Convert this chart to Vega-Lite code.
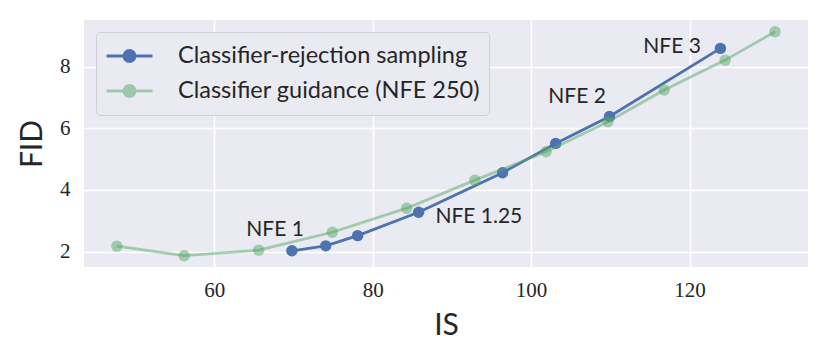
{
  "$schema": "https://vega.github.io/schema/vega-lite/v6.json",
  "width": 724,
  "height": 247,
  "autosize": {"type": "none"},
  "padding": {"left": 84, "top": 20, "right": 22, "bottom": 93},
  "background": "white",
  "config": {
    "view": {"fill": "#EAEAF2", "stroke": null},
    "axis": {
      "domain": false,
      "ticks": false,
      "gridColor": "white",
      "gridWidth": 1.6,
      "labelFont": "Liberation Serif",
      "labelFontSize": 21,
      "labelColor": "#262626",
      "titleFont": "Lato",
      "titleFontSize": 30,
      "titleFontWeight": "normal",
      "titleColor": "#262626"
    }
  },
  "datasets": {
    "pts": [
      {"series": "Classifier-rejection sampling", "IS": 69.8, "FID": 2.03},
      {"series": "Classifier-rejection sampling", "IS": 74.07, "FID": 2.19},
      {"series": "Classifier-rejection sampling", "IS": 78.1, "FID": 2.52},
      {"series": "Classifier-rejection sampling", "IS": 85.8, "FID": 3.28},
      {"series": "Classifier-rejection sampling", "IS": 96.4, "FID": 4.56},
      {"series": "Classifier-rejection sampling", "IS": 103.1, "FID": 5.51},
      {"series": "Classifier-rejection sampling", "IS": 109.9, "FID": 6.38},
      {"series": "Classifier-rejection sampling", "IS": 123.9, "FID": 8.59},
      {"series": "Classifier guidance (NFE 250)", "IS": 47.7, "FID": 2.18},
      {"series": "Classifier guidance (NFE 250)", "IS": 56.2, "FID": 1.87},
      {"series": "Classifier guidance (NFE 250)", "IS": 65.6, "FID": 2.05},
      {"series": "Classifier guidance (NFE 250)", "IS": 74.9, "FID": 2.63},
      {"series": "Classifier guidance (NFE 250)", "IS": 84.3, "FID": 3.41},
      {"series": "Classifier guidance (NFE 250)", "IS": 92.9, "FID": 4.32},
      {"series": "Classifier guidance (NFE 250)", "IS": 101.9, "FID": 5.24},
      {"series": "Classifier guidance (NFE 250)", "IS": 109.7, "FID": 6.21},
      {"series": "Classifier guidance (NFE 250)", "IS": 116.8, "FID": 7.24},
      {"series": "Classifier guidance (NFE 250)", "IS": 124.5, "FID": 8.21},
      {"series": "Classifier guidance (NFE 250)", "IS": 130.8, "FID": 9.13}
    ],
    "labels": [
      {"label": "NFE 1", "IS": 67.67, "FID": 2.69},
      {"label": "NFE 1.25", "IS": 93.4, "FID": 3.12},
      {"label": "NFE 2", "IS": 105.8, "FID": 7.03},
      {"label": "NFE 3", "IS": 117.8, "FID": 8.65}
    ]
  },
  "encoding": {
    "x": {
      "field": "IS", "type": "quantitative", "title": "IS",
      "scale": {"domain": [43.55, 134.96], "nice": false, "zero": false},
      "axis": {"values": [60, 80, 100, 120], "labelPadding": 12, "titlePadding": 10}
    },
    "y": {
      "field": "FID", "type": "quantitative", "title": "FID",
      "scale": {"domain": [1.504, 9.51], "nice": false, "zero": false},
      "axis": {"values": [2, 4, 6, 8], "labelPadding": 14, "titlePadding": 12}
    }
  },
  "layer": [
    {
      "data": {"name": "pts"},
      "transform": [{"filter": "datum.series === 'Classifier-rejection sampling'"}],
      "mark": {"type": "line", "strokeWidth": 2.8},
      "encoding": {
        "color": {
          "field": "series", "type": "nominal",
          "scale": {"domain": ["Classifier-rejection sampling", "Classifier guidance (NFE 250)"], "range": ["#4C72B0", "#55A868"]},
          "legend": {
            "title": null,
            "orient": "top-left",
            "offset": 12,
            "padding": 9,
            "fillColor": "#EAEAF2",
            "strokeColor": "#d0d0d8",
            "cornerRadius": 4,
            "symbolType": "M-1,0L1,0M-0.24,0A0.24,0.24,0,1,1,0.24,0A0.24,0.24,0,1,1,-0.24,0Z",
            "symbolSize": 2116,
            "symbolStrokeWidth": 2.8,
            "clipHeight": 30,
            "rowPadding": 5,
            "labelOffset": 24,
            "labelFont": "Lato",
            "labelFontSize": 23.5,
            "labelColor": "#262626",
            "labelLimit": 400,
            "encode": {
              "symbols": {
                "update": {
                  "fill": {"scale": "color", "field": "value"},
                  "stroke": {"scale": "color", "field": "value"},
                  "opacity": {"signal": "datum.value === 'Classifier guidance (NFE 250)' ? 0.5 : 1"}
                }
              }
            }
          }
        }
      }
    },
    {
      "data": {"name": "pts"},
      "transform": [{"filter": "datum.series === 'Classifier-rejection sampling'"}],
      "mark": {"type": "point", "filled": true, "size": 130, "opacity": 1},
      "encoding": {"color": {"field": "series", "type": "nominal"}}
    },
    {
      "data": {"name": "pts"},
      "transform": [{"filter": "datum.series === 'Classifier guidance (NFE 250)'"}],
      "mark": {"type": "line", "strokeWidth": 2.8, "opacity": 0.5},
      "encoding": {"color": {"field": "series", "type": "nominal"}}
    },
    {
      "data": {"name": "pts"},
      "transform": [{"filter": "datum.series === 'Classifier guidance (NFE 250)'"}],
      "mark": {"type": "point", "filled": true, "size": 130, "opacity": 0.5},
      "encoding": {"color": {"field": "series", "type": "nominal"}}
    },
    {
      "data": {"name": "labels"},
      "mark": {"type": "text", "font": "Lato", "fontSize": 21, "color": "#262626", "align": "center", "baseline": "middle"},
      "encoding": {"text": {"field": "label", "type": "nominal"}}
    }
  ]
}
